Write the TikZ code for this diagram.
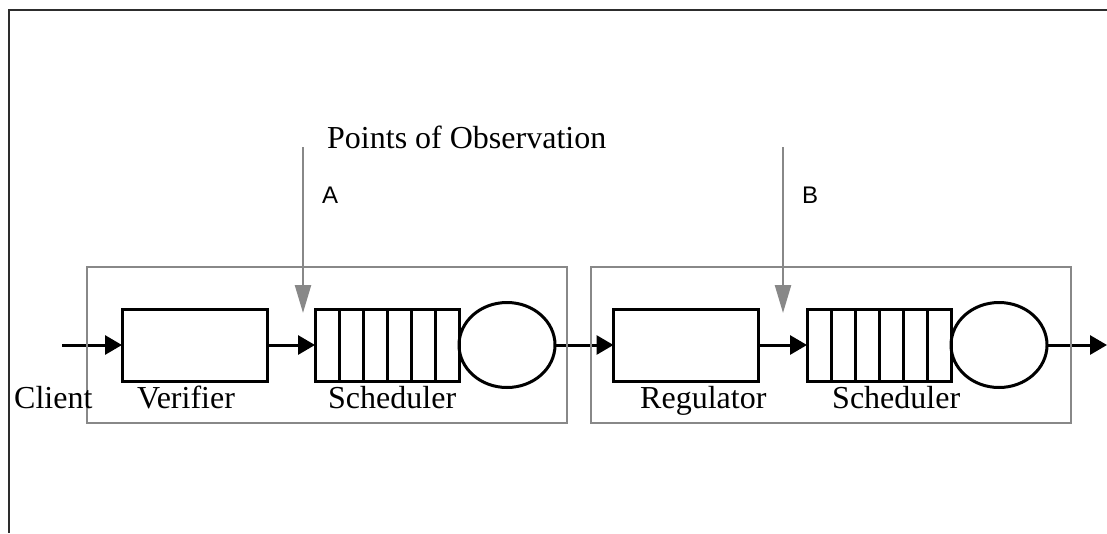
\documentclass[tikz,border=0pt]{standalone}
\usepackage{fontspec}
\setmainfont{Liberation Serif}
\newfontfamily\labsans{Liberation Sans}
\usetikzlibrary{arrows.meta,shapes.geometric,calc}
\definecolor{obsgray}{RGB}{136,136,136}
\definecolor{framegray}{RGB}{45,45,45}
\tikzset{
  blk/.style={draw=black, line width=3pt, rectangle, minimum width=145pt, minimum height=72pt, inner sep=0pt, outer sep=0pt},
  queuebox/.style={draw=black, line width=3pt, rectangle, minimum width=144pt, minimum height=72pt, inner sep=0pt, outer sep=0pt},
  server/.style={draw=black, line width=3pt, ellipse, minimum width=96pt, minimum height=85pt, inner sep=0pt, outer sep=0pt, anchor=west},
  grp/.style={draw=obsgray, line width=2.8pt, rectangle, minimum width=480pt, minimum height=156pt, inner sep=0pt},
  flow/.style={line width=3pt, -{Triangle[length=17pt,width=19pt]}},
  obs/.style={draw=obsgray, line width=2.4pt, -{Triangle[length=28pt,width=16pt]}, color=obsgray},
  lab/.style={anchor=base west, inner sep=0pt, font=\fontsize{32}{38}\selectfont},
  letter/.style={anchor=base west, inner sep=0pt, font=\labsans\fontsize{24}{29}\selectfont},
}
\begin{document}
\begin{tikzpicture}[x=1pt,y=-1pt]
\useasboundingbox (0,0) rectangle (1107,533);
% frame
\draw[line width=2.8pt, framegray] (1107,10) -- (9,10) -- (9,533);

% blocks
\node[blk] (ver) at (194.5,345) {};
\node[queuebox] (qA) at (387,345) {};
\node[server] (sA) at (qA.east) {};
\node[blk] (reg) at (686,345) {};
\node[queuebox] (qB) at (879,345) {};
\node[server] (sB) at (qB.east) {};
\foreach \q in {qA,qB}{
  \foreach \k in {1,...,5}{
    \draw[line width=3pt] ([xshift=\k*24pt]\q.north west) -- ([xshift=\k*24pt]\q.south west);
  }
}

% flow connectors
\coordinate (in) at (62,345);
\coordinate (out) at (1107,345);
\draw[flow] (in) -- (ver.west);
\draw[flow] (ver.east) -- (qA.west);
\draw[flow] (sA.east) -- (reg.west);
\draw[flow] (reg.east) -- (qB.west);
\draw[flow] (sB.east) -- (out);

% group boxes
\node[grp] (g1) at (327,345) {};
\node[grp] (g2) at (831,345) {};

% observation arrows
\coordinate (oAs) at (303,147);
\coordinate (oAe) at (303,313);
\coordinate (oBs) at (783,147);
\coordinate (oBe) at (783,313);
\draw[obs] (oAs) -- (oAe);
\draw[obs] (oBs) -- (oBe);

% texts
\node[lab] (pts) at (327,148) {Points of Observation};
\node[letter] (la) at (322,203) {A};
\node[letter] (lb) at (802,203) {B};
\node[lab] (cli) at (14,408) {Client};
\node[lab] (lver) at (137,408) {Verifier};
\node[lab] (lsa) at (328,408) {Scheduler};
\node[lab] (lreg) at (640,408) {Regulator};
\node[lab] (lsb) at (832,408) {Scheduler};
\end{tikzpicture}
\end{document}
